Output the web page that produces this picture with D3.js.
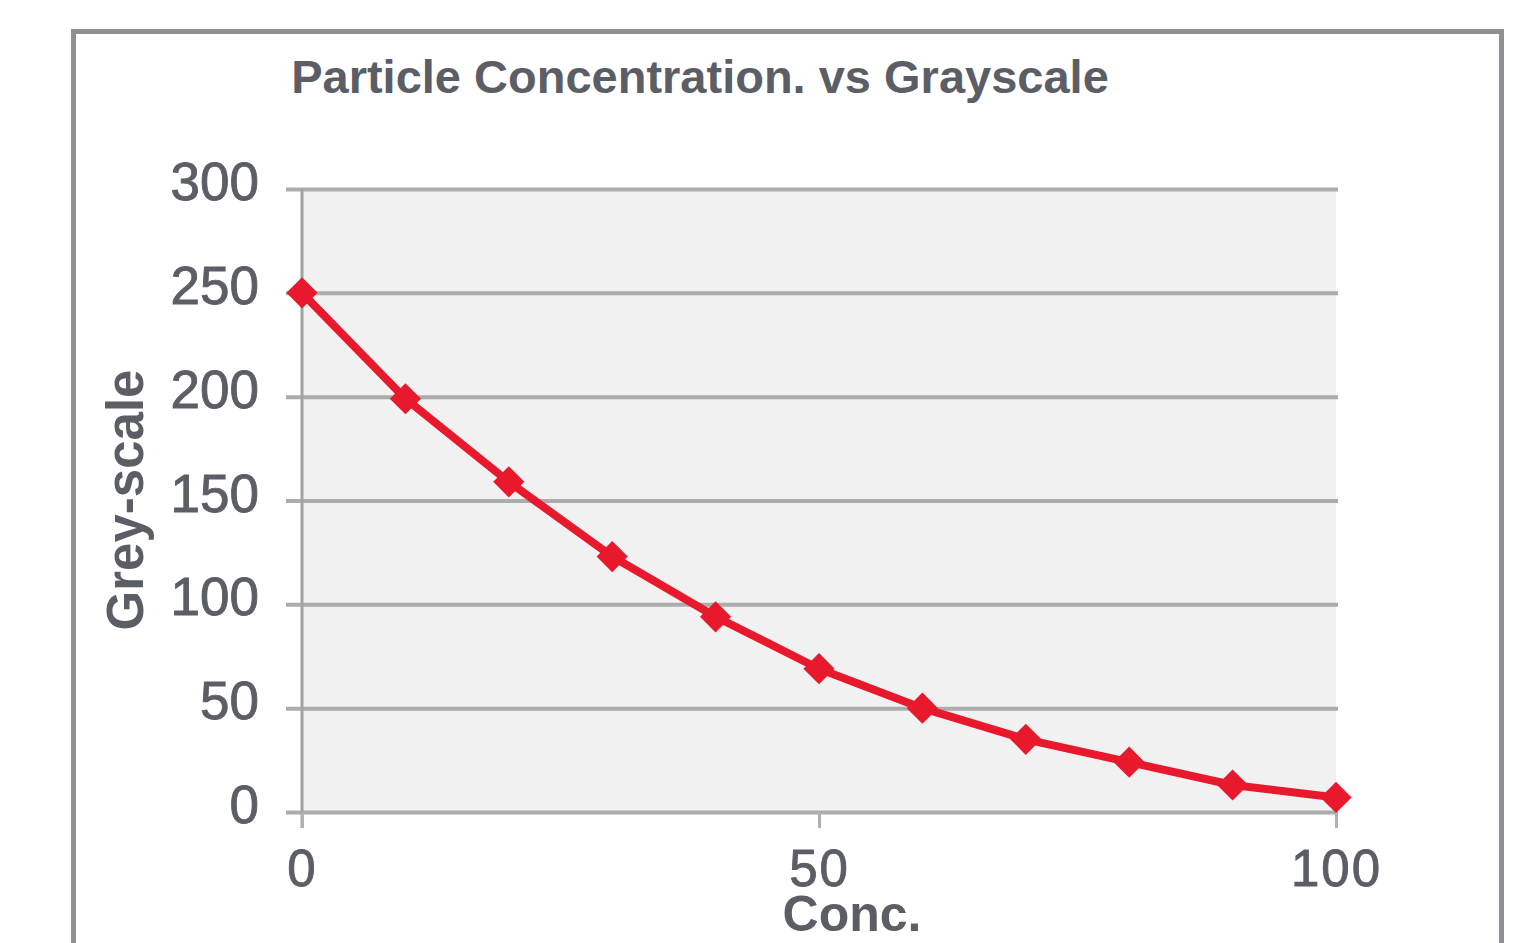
<!DOCTYPE html>
<html>
<head>
<meta charset="utf-8">
<script src="https://cdn.jsdelivr.net/npm/d3@7"></script>
<style>
  body { margin: 0; background: #fff; }
  text { font-family: "Liberation Sans", Arial, sans-serif; fill: #5b5e65; }
</style>
</head>
<body>
<svg id="chart" width="1529" height="943"></svg>
<script>
// data
var conc = [0, 10, 20, 30, 40, 50, 60, 70, 80, 90, 100];
var greyscale = [250, 199, 159, 123, 94, 69, 50, 35, 24, 13, 7];
var yTicks = [0, 50, 100, 150, 200, 250, 300];
var xTicks = [0, 50, 100];
var chartTitle = "Particle Concentration. vs Grayscale";
var xTitle = "Conc.";
var yTitle = "Grey-scale";

var svg = d3.select("#chart");

// outer frame
svg.append("rect")
    .attr("x", 73.5).attr("y", 31.5)
    .attr("width", 1428).attr("height", 960)
    .attr("fill", "none").attr("stroke", "#8e9095").attr("stroke-width", 5);

var x = d3.scaleLinear().domain([0, 100]).range([302, 1336]);
var y = d3.scaleLinear().domain([0, 300]).range([812, 189]);

// plot area
svg.append("rect")
    .attr("x", x(0)).attr("y", y(300))
    .attr("width", x(100) - x(0)).attr("height", y(0) - y(300))
    .attr("fill", "#f1f1f1");

// horizontal gridlines + left ticks
var yAxis = d3.axisLeft(y).tickValues(yTicks).tickSize(-(x(100) - x(0)) - 2).tickPadding(43);
var gy = svg.append("g").attr("transform", "translate(" + x(0) + ",0)").call(yAxis);
gy.select(".domain").remove();
gy.selectAll(".tick line")
    .attr("x1", -16)
    .attr("stroke", "#acacac").attr("stroke-width", 4);
gy.selectAll(".tick text")
    .attr("fill", "#5b5e65").attr("stroke", "#5b5e65").attr("stroke-width", 0.9)
    .attr("font-size", 53)
    .attr("font-family", "Liberation Sans, Arial, sans-serif")
    .attr("dy", "0.2em");

// vertical axis line
svg.append("line")
    .attr("x1", x(0)).attr("x2", x(0))
    .attr("y1", y(300)).attr("y2", y(0) + 16)
    .attr("stroke", "#a2a2a2").attr("stroke-width", 3);

// bottom ticks
var xAxis = d3.axisBottom(x).tickValues(xTicks).tickSize(16).tickPadding(22);
var gx = svg.append("g").attr("transform", "translate(0," + y(0) + ")").call(xAxis);
gx.select(".domain").remove();
gx.selectAll(".tick line").attr("stroke", "#b0b0b0").attr("stroke-width", 3);
gx.selectAll(".tick text")
    .attr("fill", "#5b5e65").attr("stroke", "#5b5e65").attr("stroke-width", 0.9)
    .attr("font-size", 51)
    .attr("font-family", "Liberation Sans, Arial, sans-serif")
    .attr("letter-spacing", 2);

// series
var pts = conc.map(function (c, i) { return [c, greyscale[i]]; });
var line = d3.line()
    .x(function (d) { return x(d[0]); })
    .y(function (d) { return y(d[1]); });
svg.append("path")
    .datum(pts)
    .attr("d", line)
    .attr("fill", "none").attr("stroke", "#e8192c")
    .attr("stroke-width", 8).attr("stroke-linejoin", "round");

var diamond = d3.symbol().type(d3.symbolDiamond2).size(620);
svg.selectAll(".marker")
    .data(pts)
    .enter().append("path")
    .attr("class", "marker")
    .attr("d", diamond)
    .attr("transform", function (d) { return "translate(" + x(d[0]) + "," + y(d[1]) + ")"; })
    .attr("fill", "#e8192c");

// titles
svg.append("text")
    .attr("x", 700).attr("y", 93)
    .attr("text-anchor", "middle")
    .attr("font-size", 47).attr("font-weight", "bold")
    .text(chartTitle);

svg.append("text")
    .attr("x", 852).attr("y", 931)
    .attr("text-anchor", "middle")
    .attr("font-size", 50).attr("font-weight", "bold")
    .text(xTitle);

svg.append("text")
    .attr("transform", "translate(143,500) rotate(-90)")
    .attr("text-anchor", "middle")
    .attr("font-size", 51).attr("font-weight", "bold")
    .text(yTitle);
</script>
</body>
</html>
